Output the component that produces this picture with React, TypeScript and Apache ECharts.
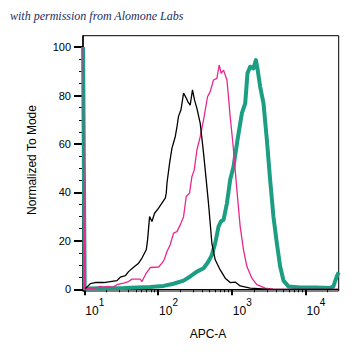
import React, { useEffect, useRef } from "react";
import * as echarts from "echarts";

// x values are log10(APC-A); y values are "Normalized To Mode" (%)
const blackX = [1.014, 1.037, 1.081, 1.149, 1.262, 1.352, 1.443, 1.488, 1.556, 1.6, 1.668, 1.736, 1.782, 1.84, 1.858, 1.885, 1.917, 1.953, 2.007, 2.066, 2.098, 2.111, 2.121, 2.156, 2.188, 2.233, 2.256, 2.278, 2.31, 2.346, 2.382, 2.405, 2.436, 2.467, 2.495, 2.527, 2.572, 2.617, 2.653, 2.684, 2.707, 2.73, 2.775, 2.843, 2.911, 2.978, 3.046, 3.114, 3.249, 3.476, 4.45];
const blackY = [0.3, 1.0, 2.3, 2.8, 2.8, 3.2, 3.6, 5.0, 5.6, 7.3, 9.1, 10.8, 12.9, 16.3, 20.4, 30.0, 28.0, 31.4, 33.5, 36.2, 37.6, 39.7, 43.8, 52.0, 58.2, 63.0, 67.0, 71.5, 74.0, 81.0, 79.0, 77.4, 76.0, 82.3, 78.1, 74.7, 68.5, 56.2, 45.2, 35.5, 27.3, 19.0, 12.2, 8.0, 4.6, 2.8, 3.0, 1.4, 0.5, 0.1, 0];

const magentaX = [0.983, 1.005, 1.149, 1.217, 1.262, 1.329, 1.375, 1.443, 1.533, 1.6, 1.646, 1.759, 1.782, 1.84, 1.894, 2.007, 2.053, 2.083, 2.121, 2.165, 2.21, 2.256, 2.301, 2.346, 2.382, 2.427, 2.459, 2.491, 2.527, 2.572, 2.617, 2.671, 2.707, 2.752, 2.798, 2.829, 2.856, 2.888, 2.934, 2.955, 2.978, 3.015, 3.046, 3.077, 3.114, 3.159, 3.205, 3.272, 3.34, 3.453, 3.565, 4.45];
const magentaY = [100, 0.3, 0.5, 1.2, 0.9, 1.2, 0.7, 1.9, 2.6, 3.2, 4.2, 4.2, 3.2, 6.7, 9.0, 9.2, 10.8, 12.2, 15.6, 18.4, 23.2, 23.8, 26.6, 30.0, 38.3, 39.7, 46.5, 49.3, 57.5, 63.0, 69.9, 79.5, 81.6, 86.4, 87.1, 92.6, 89.2, 90.5, 86.4, 79.5, 71.3, 60.3, 49.3, 38.3, 25.9, 16.3, 9.4, 4.6, 1.9, 0.5, 0.1, 0];

const tealX = [0.983, 1.005, 1.533, 1.894, 2.075, 2.21, 2.346, 2.436, 2.527, 2.617, 2.684, 2.73, 2.775, 2.82, 2.852, 2.888, 2.934, 2.978, 3.023, 3.077, 3.137, 3.182, 3.213, 3.249, 3.294, 3.327, 3.348, 3.385, 3.43, 3.476, 3.52, 3.565, 3.611, 3.656, 3.701, 3.768, 3.927, 4.153, 4.333, 4.378, 4.424, 4.45];
const tealY = [100, 0.3, 0.5, 1.0, 1.4, 2.3, 3.6, 5.3, 7.3, 8.7, 11.5, 14.2, 19.0, 25.9, 28.0, 28.7, 35.5, 45.2, 50.6, 61.6, 72.7, 76.8, 89.2, 91.9, 91.2, 94.6, 91.2, 83.6, 76.8, 61.6, 45.2, 30.0, 19.0, 9.4, 3.6, 1.2, 0.7, 0.7, 0.5, 1.2, 5.3, 7.0];

const decadeExponents = [1, 2, 3, 4];
const minorMultipliers = [2, 3, 4, 5, 6, 7, 8, 9];
const yMajorTicks = [0, 20, 40, 60, 80, 100];
const yMinorTicks = [5, 10, 15, 25, 30, 35, 45, 50, 55, 65, 70, 75, 85, 90, 95];

const X_MIN = 0.982;
const X_MAX = 4.45;
const Y_MIN = -0.7;
const Y_MAX = 104.7;

const xMinorTicks: number[] = [];
decadeExponents.forEach((d) => {
  minorMultipliers.forEach((m) => {
    const v = d + Math.log10(m);
    if (v > X_MIN && v < X_MAX) xMinorTicks.push(v);
  });
});

const zip = (xs: number[], ys: number[]) => xs.map((x, i) => [x, ys[i]]);

const FONT = "Liberation Sans, Arial, sans-serif";

export default function App() {
  const ref = useRef<HTMLDivElement>(null);
  useEffect(() => {
    if (!ref.current) return;
    const chart = echarts.init(ref.current, null, { renderer: "svg" });
    const grid = { left: 83, right: 20.3, top: 35.7, bottom: 68 };
    chart.setOption({
      animation: false,
      backgroundColor: "#fff",
      grid: { ...grid, show: true, borderColor: "#000", borderWidth: 1, backgroundColor: "transparent" },
      xAxis: [
        {
          type: "value",
          min: X_MIN,
          max: X_MAX,
          position: "bottom",
          axisLine: { show: true, lineStyle: { color: "#000", width: 1 } },
          axisTick: { show: true, customValues: decadeExponents, length: 6, lineStyle: { color: "#000", width: 2 } },
          axisLabel: {
            show: true,
            customValues: decadeExponents,
            align: "left",
            margin: 14,
            formatter: (v: number) => `{b|10}{s|${Math.round(v)}}`,
            rich: {
              b: { fontSize: 12, fontFamily: FONT, color: "#000", lineHeight: 12, padding: [0, 0, 0, 1], verticalAlign: "bottom" },
              s: { fontSize: 10, fontFamily: FONT, color: "#000", lineHeight: 11, padding: [0, 0, 10, 0], verticalAlign: "bottom" },
            },
          },
          splitLine: { show: false },
        },
        {
          type: "value",
          min: X_MIN,
          max: X_MAX,
          position: "bottom",
          axisLine: { show: false },
          axisTick: { show: true, customValues: xMinorTicks, length: 3, lineStyle: { color: "#000", width: 1 } },
          axisLabel: { show: false },
          splitLine: { show: false },
        },
      ],
      yAxis: [
        {
          type: "value",
          min: Y_MIN,
          max: Y_MAX,
          position: "left",
          axisLine: { show: true, lineStyle: { color: "#000", width: 1.5 } },
          axisTick: { show: true, customValues: yMajorTicks, length: 9, lineStyle: { color: "#000", width: 2 } },
          axisLabel: { show: true, customValues: yMajorTicks, margin: 12, fontSize: 11, fontFamily: FONT, color: "#000" },
          splitLine: { show: false },
        },
        {
          type: "value",
          min: Y_MIN,
          max: Y_MAX,
          position: "left",
          axisLine: { show: false },
          axisTick: { show: true, customValues: yMinorTicks, length: 4, lineStyle: { color: "#000", width: 1 } },
          axisLabel: { show: false },
          splitLine: { show: false },
        },
      ],
      series: [
        {
          type: "line",
          data: zip(tealX, tealY),
          showSymbol: false,
          lineStyle: { color: "#1c9e82", width: 4, join: "round" },
          itemStyle: { color: "#1c9e82" },
          z: 2,
        },
        {
          type: "line",
          data: zip(magentaX, magentaY),
          showSymbol: false,
          lineStyle: { color: "#e8278f", width: 1.3 },
          itemStyle: { color: "#e8278f" },
          z: 3,
        },
        {
          type: "line",
          data: zip(blackX, blackY),
          showSymbol: false,
          lineStyle: { color: "#000", width: 1.3 },
          itemStyle: { color: "#000" },
          z: 4,
        },
      ],
      graphic: [
        {
          type: "text",
          left: 10,
          top: 10,
          style: {
            text: "with permission from Alomone Labs",
            fill: "#1d2d5f",
            font: "italic 12px 'Liberation Serif', serif",
          },
        },
        {
          type: "text",
          x: 208,
          y: 334,
          style: {
            text: "APC-A",
            fill: "#000",
            font: "12px " + FONT,
            textAlign: "center",
            textVerticalAlign: "middle",
          },
        },
        {
          type: "text",
          x: 32,
          y: 160,
          rotation: Math.PI / 2,
          style: {
            text: "Normalized To Mode",
            fill: "#000",
            font: "12px " + FONT,
            textAlign: "center",
            textVerticalAlign: "middle",
          },
        },
      ],
    });
    return () => chart.dispose();
  }, []);
  return <div ref={ref} style={{ width: 359, height: 359, position: "absolute", left: 0, top: 0 }} />;
}
